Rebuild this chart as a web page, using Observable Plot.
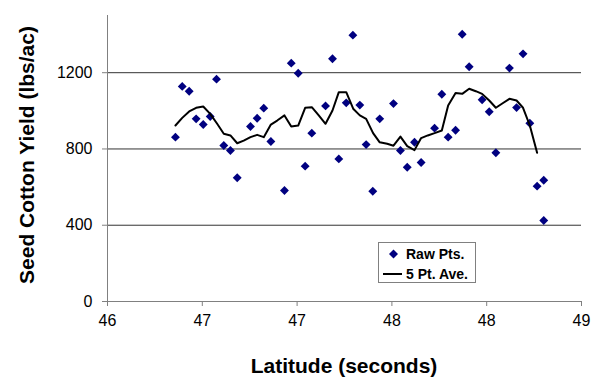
<!DOCTYPE html>
<html>
<head>
<meta charset="utf-8">
<script src="https://cdn.jsdelivr.net/npm/d3@7"></script>
<script src="https://cdn.jsdelivr.net/npm/@observablehq/plot@0.6"></script>
<style>
  html, body { margin: 0; padding: 0; background: #fff; }
  #wrap { position: relative; width: 596px; height: 377px; font-family: "Liberation Sans", Arial, Helvetica, sans-serif; }
  #chart svg { display: block; }
  .title { position: absolute; font-weight: bold; color: #000; white-space: nowrap; }
  #xtitle { left: 0; width: 596px; text-align: center; padding-left: 92px; box-sizing: border-box; top: 354px; font-size: 21px; line-height: 24px; }
  #ytitle { left: 27px; top: 155px; font-size: 21px; line-height: 24px; transform: translate(-50%, -50%) rotate(-90deg); }
  #legend { position: absolute; left: 378px; top: 242px; width: 96px; height: 39px; border: 1px solid #808080; background: #fff; }
  #legend .row { position: absolute; left: 0; height: 20px; font-weight: bold; font-size: 14px; line-height: 20px; }
  #legend .row span { position: absolute; left: 27px; top: 0; white-space: nowrap; }
  #legend svg { position: absolute; left: 0; top: 0; }
</style>
</head>
<body>
<div id="wrap">
  <div id="chart"></div>
  <div id="ytitle" class="title">Seed Cotton Yield (lbs/ac)</div>
  <div id="xtitle" class="title">Latitude (seconds)</div>
  <div id="legend">
    <div class="row" style="top:1px;width:96px;"><svg width="26" height="20"><path d="M14.5,5.5 L19,10 L14.5,14.5 L10,10 Z" fill="#000080"/></svg><span>Raw Pts.</span></div>
    <div class="row" style="top:21px;width:96px;"><svg width="26" height="20"><line x1="4" x2="23" y1="10" y2="10" stroke="#000" stroke-width="2"/></svg><span>5 Pt. Ave.</span></div>
  </div>
</div>
<script>
// Raw points (latitude seconds, seed cotton yield lbs/ac)
const rawLat = [46.430, 46.473, 46.517, 46.561, 46.606, 46.650, 46.690, 46.736, 46.778, 46.821,
  46.905, 46.947, 46.989, 47.034, 47.120, 47.163, 47.207, 47.251, 47.293, 47.380,
  47.424, 47.464, 47.511, 47.553, 47.597, 47.637, 47.679, 47.723, 47.810, 47.854,
  47.897, 47.943, 47.985, 48.070, 48.116, 48.156, 48.203, 48.245, 48.289, 48.371,
  48.416, 48.458, 48.544, 48.589, 48.630, 48.673, 48.719, 48.761, 48.761];
const rawYield = [862, 1128, 1103, 958, 928, 970, 1166, 818, 792, 649,
  918, 961, 1014, 839, 582, 1250, 1197, 710, 883, 1026,
  1273, 748, 1042, 1397, 1030, 823, 578, 958, 1038, 792,
  704, 835, 729, 909, 1087, 862, 898, 1402, 1231, 1058,
  995, 780, 1224, 1017, 1299, 935, 605, 636, 425];

// 5 point average line
const aveLat = [46.430, 46.473, 46.517, 46.561, 46.606, 46.650, 46.694, 46.736, 46.778, 46.821,
  46.862, 46.905, 46.947, 46.989, 47.034, 47.074, 47.120, 47.163, 47.207, 47.251,
  47.293, 47.337, 47.380, 47.424, 47.464, 47.511, 47.555, 47.597, 47.637, 47.681,
  47.723, 47.770, 47.810, 47.854, 47.897, 47.943, 47.985, 48.027, 48.070, 48.116,
  48.156, 48.203, 48.245, 48.289, 48.331, 48.371, 48.416, 48.458, 48.501, 48.544,
  48.589, 48.630, 48.673, 48.719];
const aveYield = [923, 963, 997, 1016, 1023, 984, 932, 880, 871, 830,
  844, 862, 874, 862, 928, 949, 976, 918, 923, 1016,
  1019, 976, 932, 1002, 1098, 1098, 1011, 976, 958, 883,
  835, 827, 817, 865, 815, 794, 857, 871, 883, 897,
  1028, 1093, 1089, 1116, 1103, 1089, 1054, 1016, 1040, 1063,
  1054, 1016, 923, 780];

const xTicks = [46, 46.6, 47.2, 47.8, 48.4, 49];
const yTicks = [0, 400, 800, 1200];
const yGrid = [400, 800, 1200];

const raw = rawLat.map((x, i) => ({x, y: rawYield[i]}));
const ave = aveLat.map((x, i) => ({x, y: aveYield[i]}));

const chart = Plot.plot({
  width: 596,
  height: 377,
  marginLeft: 107,
  marginRight: 15,
  marginTop: 15,
  marginBottom: 76,
  style: {fontFamily: '"Liberation Sans", Arial, Helvetica, sans-serif', fontSize: "16px", color: "#000", background: "#fff"},
  x: {domain: [46, 49], axis: null},
  y: {domain: [0, 1500], axis: null},
  marks: [
    Plot.ruleY(yGrid, {stroke: "#333", strokeWidth: 1}),
    Plot.ruleY([0], {stroke: "#808080", strokeWidth: 1}),
    Plot.ruleX([46], {stroke: "#808080", strokeWidth: 1}),
    Plot.axisX({ticks: xTicks, tickSize: 5, tickPadding: 8, stroke: "#808080", fill: "#000", fontSize: 16,
      tickFormat: d => String(Math.round(d)), label: null}),
    Plot.axisY({ticks: yTicks, tickSize: 5, tickPadding: 10, stroke: "#808080", fill: "#000", fontSize: 16,
      tickFormat: d => String(d), label: null}),
    Plot.dot(raw, {x: "x", y: "y", symbol: "diamond2", r: 4, fill: "#000080", stroke: "none"}),
    Plot.line(ave, {x: "x", y: "y", stroke: "#000", strokeWidth: 2, curve: "linear"})
  ]
});
document.getElementById("chart").appendChild(chart);
</script>
</body>
</html>
